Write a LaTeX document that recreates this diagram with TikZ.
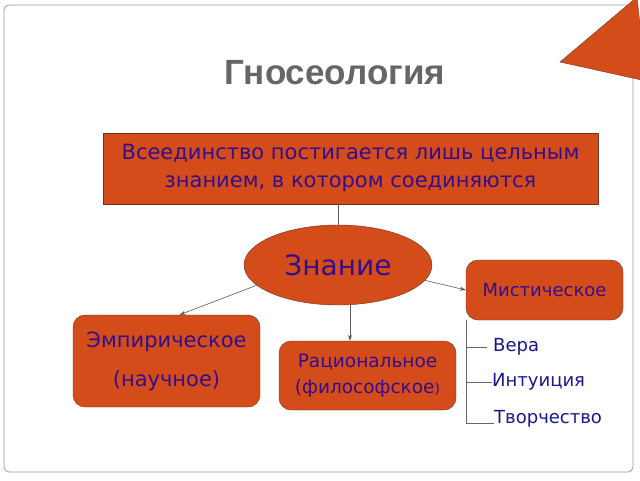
\documentclass[tikz,border=0pt]{standalone}
\usepackage{fontspec}
\setmainfont{DejaVu Sans}
\newfontfamily\titlefont{Liberation Sans}
\usetikzlibrary{shapes.geometric,arrows.meta}
\definecolor{slideorange}{RGB}{212,76,26}
\definecolor{edgebrown}{RGB}{110,50,35}
\definecolor{inkblue}{RGB}{52,14,140}
\definecolor{listblue}{RGB}{24,24,140}
\definecolor{titlegray}{RGB}{102,102,102}
\tikzset{
  orangebox/.style={draw=edgebrown, fill=slideorange, text=inkblue, align=center, inner sep=0pt},
  roundbox/.style={orangebox, rounded corners=12pt},
  link/.style={draw=black!65, line width=0.6pt, -{Stealth[length=6pt,width=4pt]}},
  listitem/.style={anchor=west, text=listblue, inner sep=0pt, font=\fontsize{18}{22}\selectfont}
}
\begin{document}
\begin{tikzpicture}[x=1pt, y=-1pt]
    \clip (0,0) rectangle (640,480);
    \fill[white] (0,0) rectangle (640,480);

    % slide frame and corner mark
    \draw[black!40, line width=0.8pt, rounded corners=5pt] (4,5) rectangle (633,472);
    \filldraw[fill=slideorange, draw=edgebrown, line width=0.4pt] (560,62) -- (637,-3) -- (646,81) -- cycle;

    % title
    \node[text=titlegray, font=\titlefont\bfseries\fontsize{35}{40}\selectfont] (title) at (335,73) {Гносеология};

    % top statement
    \node[orangebox, minimum width=495pt, minimum height=71pt, font=\fontsize{21}{28}\selectfont] (unity) at (350.5,168.5)
        {Всеединство постигается лишь цельным\\знанием, в котором соединяются};

    % knowledge
    \node[orangebox, ellipse, minimum width=188pt, minimum height=80pt, font=\fontsize{28}{32}\selectfont] (know) at (338,265) {Знание};

    % three kinds
    \node[roundbox, minimum width=187pt, minimum height=92pt, font=\fontsize{21}{39}\selectfont] (emp) at (166.5,361)
        {Эмпирическое\\(научное)};
    \node[roundbox, minimum width=177pt, minimum height=69pt, font=\fontsize{18.5}{26}\selectfont] (ratl) at (367.5,375.5)
        {Рациональное\\(философское{\fontsize{14}{26}\selectfont)}};
    \node[roundbox, minimum width=157pt, minimum height=60pt, font=\fontsize{18}{22}\selectfont] (mist) at (544.5,290) {Мистическое};

    % list under mystical
    \node[listitem] (vera) at (493,347) {Вера};
    \node[listitem] (intu) at (492,382) {Интуиция};
    \node[listitem] (tvor) at (494,419) {Творчество};

    % connections
    \draw[black!65, line width=0.6pt] (unity.south -| know.north) -- (know.north);
    \draw[link] (know.194) -- ([xshift=13pt]emp.north);
    \draw[link] ([xshift=12pt]know.south) -- ([xshift=-17.5pt]ratl.north);
    \draw[link] (know.350) -- (mist.west);

    % bracket
    \draw[black!60, line width=0.6pt] (mist.south west) |- (tvor.base west);
    \draw[black!60, line width=0.6pt] (vera.west -| mist.south west) -- ([xshift=-6pt]vera.west);
    \draw[black!60, line width=0.6pt] (intu.west -| mist.south west) -- (intu.west);

\end{tikzpicture}
\end{document}
